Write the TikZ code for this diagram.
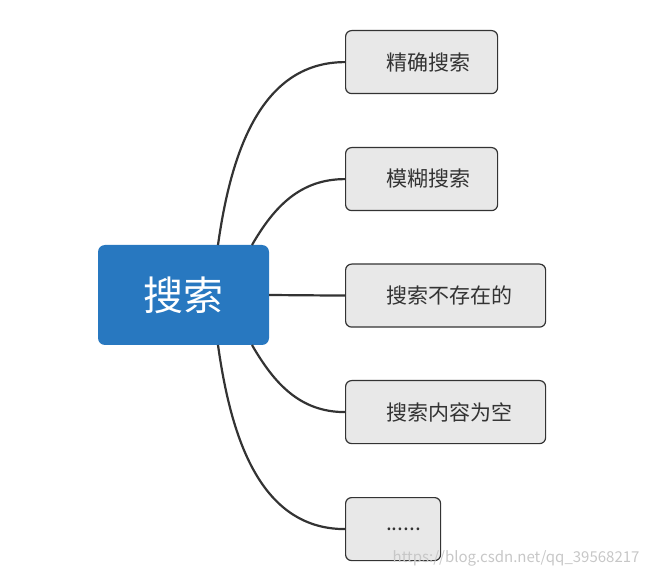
\documentclass[tikz,border=0pt]{standalone}
\usepackage{fontspec}
\setmainfont{Noto Sans CJK SC}
\begin{document}
\begin{tikzpicture}[x=1pt,y=-1pt,
  leaf/.style={draw=black!80,line width=1.2pt,fill=black!9,rounded corners=6pt,minimum height=63pt,anchor=north west,text=black!80,font=\fontsize{21}{24}\selectfont,inner sep=0pt,align=left,text width=#1-27pt,inner xsep=0pt,xshift=0pt,execute at begin node={\hspace*{27pt}}},
  link/.style={draw=black!80,line width=2.2pt}]
\useasboundingbox (0,0) rectangle (651,577);
\node[fill={rgb,255:red,40;green,120;blue,192},rounded corners=7pt,minimum width=171pt,minimum height=100pt,text=white,font=\fontsize{40}{44}\selectfont] (c) at (183.5,295) {搜索};
\node[leaf=152pt,minimum width=152pt] (n1) at (345,30) {精确搜索};
\node[leaf=152pt,minimum width=152pt] (n2) at (345,147) {模糊搜索};
\node[leaf=200pt,minimum width=200pt] (n3) at (345,263.5) {搜索不存在的};
\node[leaf=200pt,minimum width=200pt] (n4) at (345,380) {搜索内容为空};
\node[leaf=95pt,minimum width=95pt] (n5) at (345,497) {......};
\coordinate (s1) at (218,245); \coordinate (s2) at (252,245);
\coordinate (s4) at (252,345); \coordinate (s5) at (218,345);
\draw[link] (s1) to[out=82,in=180] (n1.west);
\draw[link] (s2) to[out=60,in=180] (n2.west);
\draw[link] (c.east) -- (n3.west);
\draw[link] (s4) to[out=-60,in=180] (n4.west);
\draw[link] (s5) to[out=-82,in=180] (n5.west);
\node[text=black!22,font=\fontsize{15}{17}\selectfont,anchor=east] (w) at (643,558) {https://blog.csdn.net/qq\_39568217};
\end{tikzpicture}
\end{document}
